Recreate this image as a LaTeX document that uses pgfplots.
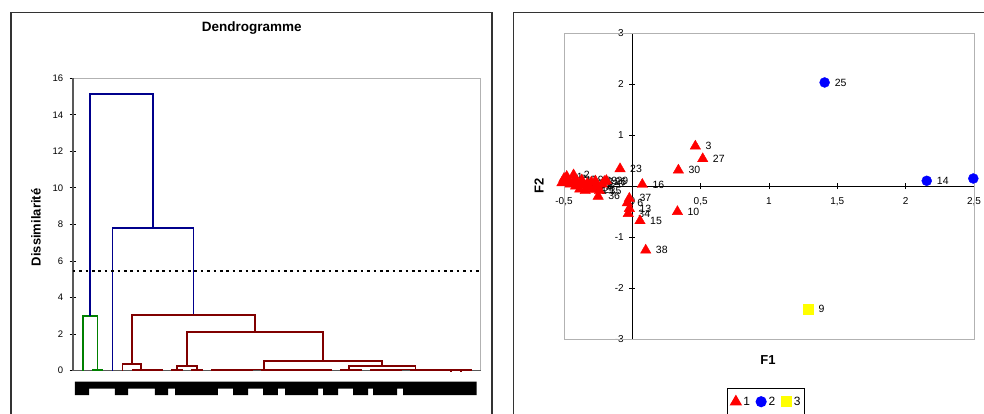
\documentclass[border=0pt]{standalone}
\usepackage{fontspec}
\setmainfont{Liberation Sans}
\usepackage{pgfplots}
\usepackage{pgfplotstable}
\pgfplotsset{compat=1.18}
\definecolor{dblue}{RGB}{0,0,140}
\definecolor{dgreen}{RGB}{0,128,0}
\definecolor{dred}{RGB}{128,0,0}
\definecolor{yel}{RGB}{255,255,0}
\definecolor{pred}{RGB}{255,0,0}
\definecolor{pblue}{RGB}{0,0,255}
\pgfplotsset{markleg/.style={legend image code/.code={\draw[##1] plot coordinates {(4pt,0pt)}; \path (-2pt,0pt) (9pt,0pt);}}}

\pgfplotstableread{
x y label
0.461 0.785 3
0.515 0.537 27
0.337 0.314 30
-0.090 0.340 23
0.073 0.033 16
-0.022 -0.240 37
-0.037 -0.330 6
-0.022 -0.440 13
-0.030 -0.540 34
0.056 -0.680 15
0.098 -1.257 38
0.330 -0.500 10
-0.515 0.065 4
-0.500 0.150 17
-0.480 0.190 1
-0.470 0.100 7
-0.455 0.040 11
-0.430 0.220 2
-0.425 0.120 22
-0.415 0.000 12
-0.400 0.070 5
-0.385 -0.060 18
-0.370 0.120 19
-0.360 0.020 32
-0.345 -0.090 31
-0.330 0.050 28
-0.310 -0.030 24
-0.300 0.080 33
-0.285 -0.070 21
-0.270 0.100 39
-0.255 0.000 8
-0.250 -0.200 36
-0.240 -0.090 35
-0.220 0.040 20
-0.205 0.090 26
-0.190 0.110 29
}\classone

\pgfplotstableread{
x y label
1.407 2.035 25
2.154 0.105 14
}\classtwo

\pgfplotstableread{
x y label
1.288 -2.408 9
}\classthree

\begin{document}
\begin{tikzpicture}[x=1pt,y=1pt]
\useasboundingbox (0,0) rectangle (984,414);
\draw[line width=1.3pt, black!80] (11,-5) -- (11,401.3) -- (492,401.3) -- (492,-5);
\draw[line width=1.3pt, black!80] (513.7,-5) -- (513.7,401.7) -- (990,401.7);

% ---------------- Dendrogram ----------------
\begin{axis}[
  at={(72.7pt,43.3pt)}, anchor=south west,
  width=408pt, height=292.4pt, scale only axis,
  xmin=0, xmax=41, ymin=0, ymax=16,
  xtick=\empty, ytick={0,2,...,16}, ytick pos=left,
  tick align=center, major tick length=6pt,
  tick style={black, line width=0.9pt},
  axis line style={gray!60, line width=0.9pt},
  /pgf/number format/assume math mode=true,
  ticklabel style={font=\fontsize{9.5}{10}\selectfont},
  yticklabel style={xshift=-3pt},
  title={Dendrogramme},
  title style={at={(axis description cs:0.439,1.1515)}, anchor=center, font=\fontsize{13.5}{15}\selectfont\bfseries},
  ylabel={Dissimilarité},
  ylabel style={at={(axis description cs:-0.09,0.49)}, anchor=center, font=\fontsize{13}{15}\selectfont\bfseries},
  clip=false, unbounded coords=jump,
]
\draw[black!65, line width=1.6pt] (rel axis cs:0,1) -- (rel axis cs:0,0) -- (rel axis cs:1,0);
% black leaf-label band
\addplot[fill=black, draw=none] coordinates {
(0.23,-0.6) (40.6,-0.6) (40.6,-1.33) (33.2,-1.33) (33.2,-0.975) (32.59,-0.975) (32.59,-1.33)
(30.18,-1.33) (30.18,-0.975) (29.68,-0.975) (29.68,-1.33) (28.17,-1.33) (28.17,-0.975)
(26.67,-0.975) (26.67,-1.33) (25.16,-1.33) (25.16,-0.975) (24.65,-0.975) (24.65,-1.33)
(21.34,-1.33) (21.34,-0.975) (20.63,-0.975) (20.63,-1.33) (19.13,-1.33) (19.13,-0.975)
(17.62,-0.975) (17.62,-1.33) (16.11,-1.33) (16.11,-0.975) (14.6,-0.975) (14.6,-1.33)
(10.29,-1.33) (10.29,-0.975) (9.58,-0.975) (9.58,-1.33) (8.27,-1.33) (8.27,-0.975)
(5.56,-0.975) (5.56,-1.33) (4.25,-1.33) (4.25,-0.975) (1.64,-0.975) (1.64,-1.33) (0.23,-1.33)};
% green cluster
\addplot[dgreen, line width=1.8pt] coordinates {
(2,0) (2,0.06) (3,0.06) (3,0) (0,nan)
(1,0) (1,3.01) (2.5,3.01) (2.5,0.06)};
% blue links
\addplot[dblue, line width=1.7pt] coordinates {
(1.75,3.01) (1.75,15.15) (8.07,15.15) (8.07,7.79) (0,nan)
(4,0) (4,7.79) (12.13,7.79) (12.13,3.05)};
% red links
\addplot[dred, line width=1.8pt] coordinates {
(5.94,0.37) (5.94,3.05) (18.33,3.05) (18.33,2.12) (0,nan)
(5,0) (5,0.37) (6.875,0.37) (6.875,0.06) (0,nan)
(6,0) (6,0.06) (7.75,0.06) (7.75,0.04) (0,nan)
(7,0) (7,0.04) (8.5,0.04) (8.5,0.02) (0,nan)
(8,0) (8,0.02) (9,0.02) (9,0) (0,nan)
(11.5,0.27) (11.5,2.12) (25.15,2.12) (25.15,0.53) (0,nan)
(10.5,0.03) (10.5,0.27) (12.5,0.27) (12.5,0.03) (0,nan)
(10,0) (10,0.03) (11,0.03) (11,0) (0,nan)
(12,0) (12,0.03) (13,0.03) (13,0) (0,nan)
(19.19,0.07) (19.19,0.53) (31.1,0.53) (31.1,0.27) (0,nan)
(14,0) (14,0.02) (15,0.02) (15,0) (0,nan)
(16,0) (16,0.02) (17,0.02) (17,0) (0,nan)
(16.5,0.02) (16.5,0.03) (18,0.03) (18,0) (0,nan)
(14.5,0.02) (14.5,0.05) (17.25,0.05) (17.25,0.03) (0,nan)
(19,0) (19,0.02) (20,0.02) (20,0) (0,nan)
(21,0) (21,0.02) (22,0.02) (22,0) (0,nan)
(19.5,0.02) (19.5,0.04) (21.5,0.04) (21.5,0.02) (0,nan)
(23,0) (23,0.02) (24,0.02) (24,0) (0,nan)
(25,0) (25,0.02) (26,0.02) (26,0) (0,nan)
(23.5,0.02) (23.5,0.04) (25.5,0.04) (25.5,0.02) (0,nan)
(20.5,0.04) (20.5,0.05) (24.5,0.05) (24.5,0.04) (0,nan)
(15.875,0.05) (15.875,0.07) (22.5,0.07) (22.5,0.05) (0,nan)
(27.75,0.04) (27.75,0.27) (34.45,0.27) (34.45,0.07) (0,nan)
(28,0) (28,0.02) (29,0.02) (29,0) (0,nan)
(27,0) (27,0.04) (28.5,0.04) (28.5,0.02) (0,nan)
(30,0) (30,0.02) (31,0.02) (31,0) (0,nan)
(32,0) (32,0.02) (33,0.02) (33,0) (0,nan)
(30.5,0.02) (30.5,0.04) (32.5,0.04) (32.5,0.02) (0,nan)
(34,0) (34,0.02) (35,0.02) (35,0) (0,nan)
(36,0) (36,0.02) (37,0.02) (37,0) (0,nan)
(34.5,0.02) (34.5,0.03) (36.5,0.03) (36.5,0.02) (0,nan)
(38,0) (38,0.01) (39,0.01) (39,0) (0,nan)
(38.5,0.01) (38.5,0.02) (40,0.02) (40,0) (0,nan)
(35.5,0.03) (35.5,0.05) (39.25,0.05) (39.25,0.02) (0,nan)
(31.5,0.04) (31.5,0.07) (37.375,0.07) (37.375,0.05)};
% cut line
\addplot[black, line width=1.9pt, dash pattern=on 2.6pt off 3.8pt] coordinates {(0,5.47) (41,5.47)};
\end{axis}

% ---------------- Scatter F1/F2 ----------------
\begin{axis}[
  at={(564pt,75pt)}, anchor=south west,
  width=410pt, height=305.7pt, scale only axis,
  xmin=-0.5, xmax=2.5, ymin=-3, ymax=3,
  axis lines=middle, axis line style={black, line width=1.1pt, -},
  xtick={-0.5,0,0.5,1,1.5,2,2.5}, ytick={-3,-2,-1,1,2,3},
  tick align=center, major tick length=6pt,
  tick style={black, line width=0.9pt},
  hide obscured x ticks=false,
  /pgf/number format/use comma,
  /pgf/number format/assume math mode=true,
  ticklabel style={font=\fontsize{10}{11}\selectfont},
  xticklabel style={yshift=-5pt},
  yticklabel style={xshift=-2pt},
  xlabel={F1}, ylabel={F2},
  xlabel style={at={(axis description cs:0.4976,-0.0687)}, anchor=center, font=\fontsize{13}{15}\selectfont\bfseries},
  ylabel style={at={(axis description cs:-0.061,0.5)}, anchor=center, rotate=90, font=\fontsize{13}{15}\selectfont\bfseries},
  clip=false,
  markleg,
  legend columns=3,
  legend style={at={(axis description cs:0.397,-0.161)}, anchor=north west,
    draw=black, line width=1.1pt, font=\fontsize{12}{13}\selectfont,
    inner ysep=6pt, inner xsep=2pt,
    /tikz/every even column/.append style={column sep=2.5pt}},
  nodes near coords, point meta=explicit symbolic,
  nodes near coords style={anchor=west, xshift=9pt, inner sep=1pt, font=\fontsize{10.5}{11}\selectfont, text=black},
]
\draw[gray!60, line width=0.9pt] (rel axis cs:0,0) rectangle (rel axis cs:1,1);
\addplot[only marks, mark=triangle*, mark size=6pt, color=pred, fill=pred]
  table[x=x, y=y, meta=label] {\classone};
\addlegendentry{1}
\addplot[only marks, mark=*, mark size=5pt, color=pblue, fill=pblue]
  table[x=x, y=y, meta=label] {\classtwo};
\addlegendentry{2}
\addplot[only marks, mark=square*, mark size=5pt, color=yel, fill=yel]
  table[x=x, y=y, meta=label] {\classthree};
\addlegendentry{3}
\addplot[only marks, mark=*, mark size=5pt, color=pblue, fill=pblue, nodes near coords=, forget plot]
  coordinates {(2.495,0.15)};
\end{axis}
\end{tikzpicture}
\end{document}
